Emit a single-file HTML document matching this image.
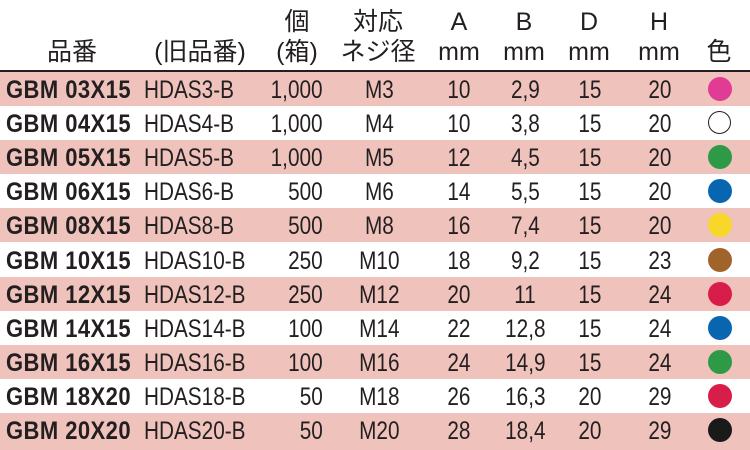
<!DOCTYPE html>
<html><head><meta charset="utf-8"><style>
body{margin:0;width:750px;height:450px;background:#fff;overflow:hidden;position:relative;font-family:"Liberation Sans","Noto Sans CJK JP",sans-serif;color:#231f20}
.r{position:absolute;left:0;width:750px;height:34.1px}
.p{background:#efc3bc}
.c{position:absolute;top:0;height:34px;line-height:36px;font-size:25px;white-space:nowrap}
.c span{display:inline-block;transform:scaleX(.83)}
.n{left:6px;font-weight:bold;transform-origin:left}
.n span{transform:scaleX(.88);transform-origin:left;letter-spacing:.5px}
.o{left:144px}.o span{transform-origin:left}
.q{right:427px}.q span{transform-origin:right}
.m,.a,.b,.d,.h{width:80px;margin-left:-40px;text-align:center}
.m{left:379px}.a{left:459px}.b{left:525px}.d{left:590px}.h{left:660px}
.dot{position:absolute;left:708px;top:5px;width:24px;height:24px;border-radius:50%}
.hd{position:absolute;font-size:25px;text-align:center;width:100px;margin-left:-50px;line-height:30px}
</style></head><body>
<div class="hd" style="left:72px;top:37px">品番</div>
<div class="hd" style="left:200px;top:37px;width:140px;margin-left:-70px">(旧品番)</div>
<div class="hd" style="left:297px;top:7px">個<br>(箱)</div>
<div class="hd" style="left:378px;top:7px">対応<br>ネジ径</div>
<div class="hd" style="left:459px;top:7px">A<br>mm</div>
<div class="hd" style="left:524px;top:7px">B<br>mm</div>
<div class="hd" style="left:589px;top:7px">D<br>mm</div>
<div class="hd" style="left:659px;top:7px">H<br>mm</div>
<div class="hd" style="left:719px;top:37px">色</div>
<div style="position:absolute;left:0;top:70px;width:750px;height:1.5px;background:#231f20"></div>

<div class="r p" style="top:72px"><div class="c n"><span>GBM 03X15</span></div><div class="c o"><span>HDAS3-B</span></div><div class="c q"><span>1,000</span></div><div class="c m"><span>M3</span></div><div class="c a"><span>10</span></div><div class="c b"><span>2,9</span></div><div class="c d"><span>15</span></div><div class="c h"><span>20</span></div><div class="dot" style="background:#e03c96"></div></div>
<div class="r" style="top:106.1px"><div class="c n"><span>GBM 04X15</span></div><div class="c o"><span>HDAS4-B</span></div><div class="c q"><span>1,000</span></div><div class="c m"><span>M4</span></div><div class="c a"><span>10</span></div><div class="c b"><span>3,8</span></div><div class="c d"><span>15</span></div><div class="c h"><span>20</span></div><div class="dot" style="border:1.5px solid #231f20;width:21px;height:21px"></div></div>
<div class="r p" style="top:140.2px"><div class="c n"><span>GBM 05X15</span></div><div class="c o"><span>HDAS5-B</span></div><div class="c q"><span>1,000</span></div><div class="c m"><span>M5</span></div><div class="c a"><span>12</span></div><div class="c b"><span>4,5</span></div><div class="c d"><span>15</span></div><div class="c h"><span>20</span></div><div class="dot" style="background:#2e9a48"></div></div>
<div class="r" style="top:174.3px"><div class="c n"><span>GBM 06X15</span></div><div class="c o"><span>HDAS6-B</span></div><div class="c q"><span>500</span></div><div class="c m"><span>M6</span></div><div class="c a"><span>14</span></div><div class="c b"><span>5,5</span></div><div class="c d"><span>15</span></div><div class="c h"><span>20</span></div><div class="dot" style="background:#0866b0"></div></div>
<div class="r p" style="top:208.4px"><div class="c n"><span>GBM 08X15</span></div><div class="c o"><span>HDAS8-B</span></div><div class="c q"><span>500</span></div><div class="c m"><span>M8</span></div><div class="c a"><span>16</span></div><div class="c b"><span>7,4</span></div><div class="c d"><span>15</span></div><div class="c h"><span>20</span></div><div class="dot" style="background:#f7d72a"></div></div>
<div class="r" style="top:242.5px"><div class="c n"><span>GBM 10X15</span></div><div class="c o"><span>HDAS10-B</span></div><div class="c q"><span>250</span></div><div class="c m"><span>M10</span></div><div class="c a"><span>18</span></div><div class="c b"><span>9,2</span></div><div class="c d"><span>15</span></div><div class="c h"><span>23</span></div><div class="dot" style="background:#a0642a"></div></div>
<div class="r p" style="top:276.6px"><div class="c n"><span>GBM 12X15</span></div><div class="c o"><span>HDAS12-B</span></div><div class="c q"><span>250</span></div><div class="c m"><span>M12</span></div><div class="c a"><span>20</span></div><div class="c b"><span>11</span></div><div class="c d"><span>15</span></div><div class="c h"><span>24</span></div><div class="dot" style="background:#d91d4a"></div></div>
<div class="r" style="top:310.7px"><div class="c n"><span>GBM 14X15</span></div><div class="c o"><span>HDAS14-B</span></div><div class="c q"><span>100</span></div><div class="c m"><span>M14</span></div><div class="c a"><span>22</span></div><div class="c b"><span>12,8</span></div><div class="c d"><span>15</span></div><div class="c h"><span>24</span></div><div class="dot" style="background:#0866b0"></div></div>
<div class="r p" style="top:344.8px"><div class="c n"><span>GBM 16X15</span></div><div class="c o"><span>HDAS16-B</span></div><div class="c q"><span>100</span></div><div class="c m"><span>M16</span></div><div class="c a"><span>24</span></div><div class="c b"><span>14,9</span></div><div class="c d"><span>15</span></div><div class="c h"><span>24</span></div><div class="dot" style="background:#2e9a48"></div></div>
<div class="r" style="top:378.9px"><div class="c n"><span>GBM 18X20</span></div><div class="c o"><span>HDAS18-B</span></div><div class="c q"><span>50</span></div><div class="c m"><span>M18</span></div><div class="c a"><span>26</span></div><div class="c b"><span>16,3</span></div><div class="c d"><span>20</span></div><div class="c h"><span>29</span></div><div class="dot" style="background:#d91d4a"></div></div>
<div class="r p" style="top:413px;height:37px"><div class="c n"><span>GBM 20X20</span></div><div class="c o"><span>HDAS20-B</span></div><div class="c q"><span>50</span></div><div class="c m"><span>M20</span></div><div class="c a"><span>28</span></div><div class="c b"><span>18,4</span></div><div class="c d"><span>20</span></div><div class="c h"><span>29</span></div><div class="dot" style="background:#1a1a1a"></div></div>
</body></html>
